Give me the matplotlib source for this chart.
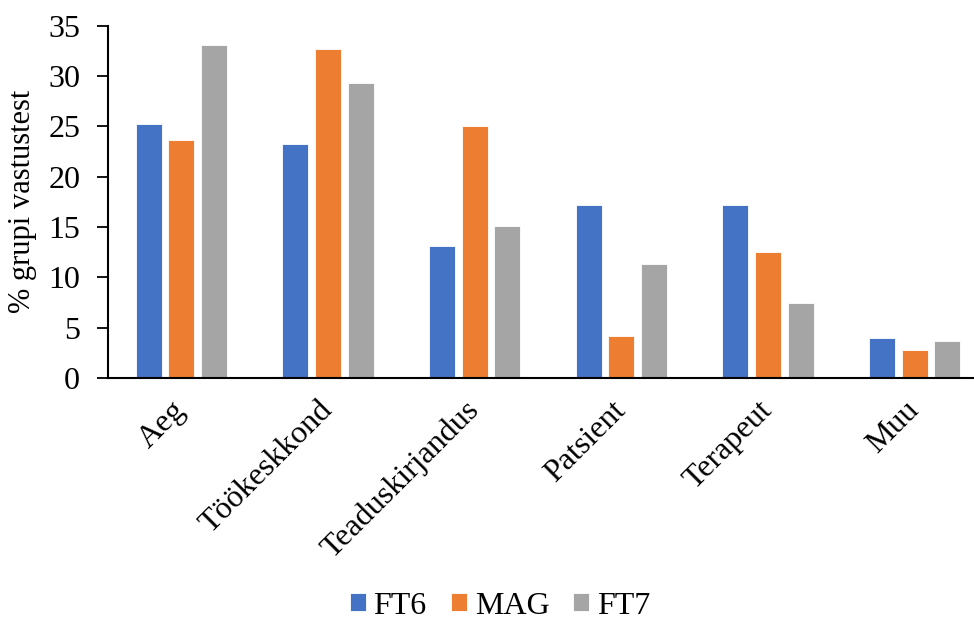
import matplotlib
matplotlib.use("Agg")
import matplotlib.pyplot as plt
from matplotlib import font_manager
import numpy as np

# Daten
categories = ["Aeg", "Töökeskkond", "Teaduskirjandus", "Patsient", "Terapeut", "Muu"]
ft6 = [25.2, 23.2, 13.1, 17.2, 17.2, 4.0]
mag = [23.6, 32.7, 25.0, 4.2, 12.5, 2.8]
ft7 = [33.1, 29.3, 15.1, 11.3, 7.5, 3.7]

series = [("FT6", ft6, "#4472C4"), ("MAG", mag, "#ED7D31"), ("FT7", ft7, "#A5A5A5")]

# Times-ähnliche Schrift (Liberation Serif)
serif_name = "DejaVu Serif"
for f in font_manager.findSystemFonts():
    if f.endswith("LiberationSerif-Regular.ttf"):
        font_manager.fontManager.addfont(f)
        serif_name = font_manager.FontProperties(fname=f).get_name()
        break
plt.rcParams["font.family"] = [serif_name, "DejaVu Serif"]

fig = plt.figure(figsize=(9.74, 6.25), dpi=100)
ax = fig.add_axes([108 / 974, 247 / 625, 880 / 974, 352.3 / 625])

x = np.arange(len(categories))
w = 0.177
step = 0.222
for i, (name, vals, color) in enumerate(series):
    ax.bar(x + (i - 1) * step, vals, w, color=color, edgecolor="white",
           linewidth=0.6, label=name)

ax.set_xlim(-0.5, len(categories) - 0.5)
ax.set_ylim(0, 35)
ax.set_yticks(range(0, 36, 5))
ax.tick_params(axis="y", direction="out", length=8, width=1.3, pad=12,
               labelsize=23)
ax.tick_params(axis="x", length=0, pad=20)
ax.set_xticks(x)
ax.set_xticklabels(categories, rotation=45, ha="right", va="center",
                   rotation_mode="anchor", fontsize=23)

for side in ("top", "right"):
    ax.spines[side].set_visible(False)
for side in ("left", "bottom"):
    ax.spines[side].set_linewidth(1.5)
    ax.spines[side].set_color("black")

ax.set_ylabel("% grupi vastustest", fontsize=22, labelpad=8)

fig.legend(loc="center", bbox_to_anchor=(500 / 974, 1 - 606 / 625), ncol=3,
           frameon=False, fontsize=23, handlelength=0.5, handleheight=0.5,
           handletextpad=0.25, columnspacing=0.75, borderpad=0.2)

fig.savefig("out.png", dpi=100)
